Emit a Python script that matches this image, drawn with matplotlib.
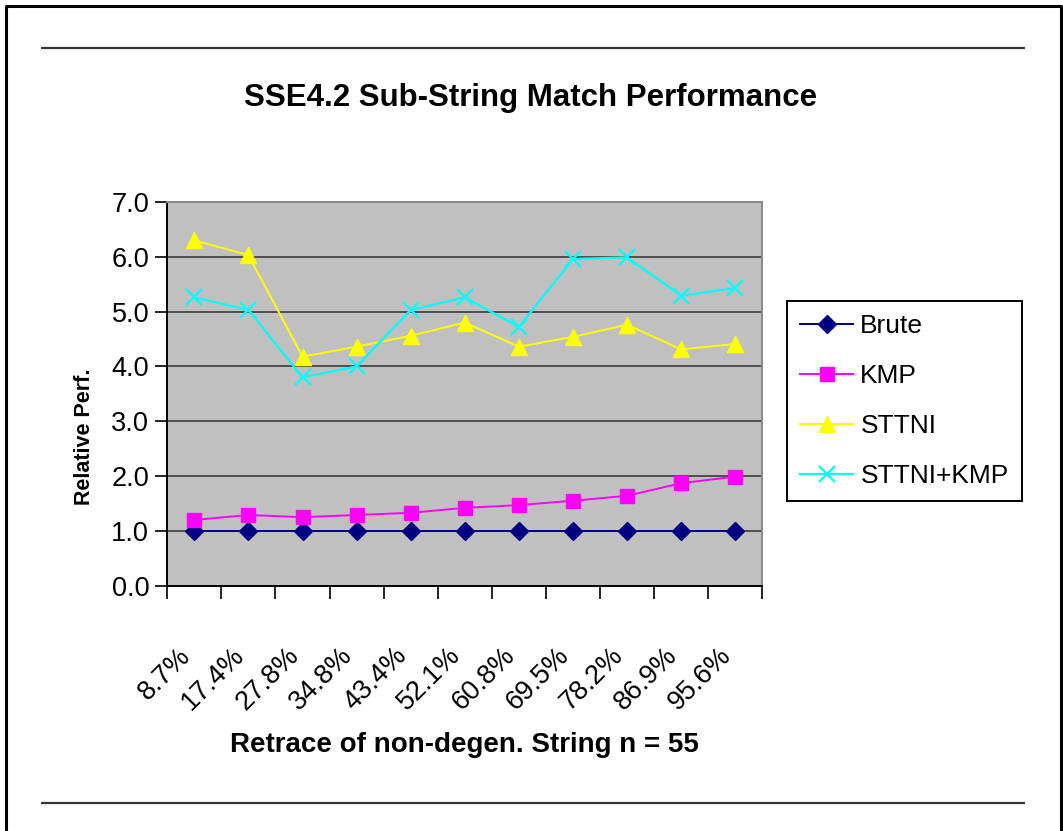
import matplotlib
matplotlib.use("Agg")
import matplotlib.pyplot as plt
from matplotlib.lines import Line2D
from matplotlib.transforms import offset_copy

plt.rcParams['font.family'] = ['Liberation Sans', 'DejaVu Sans']

categories = ["8.7%", "17.4%", "27.8%", "34.8%", "43.4%", "52.1%",
              "60.8%", "69.5%", "78.2%", "86.9%", "95.6%"]
brute = [1.0, 1.0, 1.0, 1.0, 1.0, 1.0, 1.0, 1.0, 1.0, 1.0, 1.0]
kmp = [1.20, 1.29, 1.25, 1.29, 1.33, 1.42, 1.47, 1.55, 1.64, 1.87, 1.99]
sttni = [6.30, 6.03, 4.18, 4.36, 4.56, 4.80, 4.36, 4.54, 4.76, 4.31, 4.41]
sttni_kmp = [5.26, 5.03, 3.80, 4.00, 5.03, 5.26, 4.72, 5.96, 5.99, 5.29, 5.43]
y_ticks = [0, 1, 2, 3, 4, 5, 6, 7]

W, H = 1063, 831
fig = plt.figure(figsize=(W / 100, H / 100), dpi=100)
fig.patch.set_facecolor("white")

# outer frame (left, top, right) and the two horizontal rules
def fline(x0, y0, x1, y1, color="black", lw=1.5):
    fig.add_artist(Line2D([x0 / W, x1 / W], [1 - y0 / H, 1 - y1 / H],
                          transform=fig.transFigure, color=color, lw=lw,
                          solid_capstyle="butt"))

fline(6, 6, 6, H, lw=2.2)
fline(5, 6, 1062, 6, lw=2.2)
fline(1061, 6, 1061, H, lw=2.2)
fline(41, 48, 1025, 48, color="#333333", lw=1.6)
fline(41, 803, 1025, 803, color="#333333", lw=1.6)

left, right, top, bottom = 167.3, 762.3, 202.0, 585.7
ax = fig.add_axes([left / W, 1 - bottom / H, (right - left) / W, (bottom - top) / H])
ax.set_facecolor("#C0C0C0")

n = len(categories)
xs = [i + 0.5 for i in range(n)]

ax.set_xlim(0, n)
ax.set_ylim(0, 7)
ax.set_yticks(y_ticks)
ax.set_yticklabels([f"{v:.1f}" for v in y_ticks], fontsize=19.5)
ax.yaxis.grid(True, color="#303030", lw=1.1)
ax.set_axisbelow(True)

ax.set_xticks(range(n + 1))
ax.set_xticklabels([])
ax.tick_params(axis="both", direction="out", length=9, width=1.2, color="black")
ax.tick_params(axis="y", pad=4)

for s in ["left", "bottom"]:
    ax.spines[s].set_color("black")
    ax.spines[s].set_linewidth(1.4)
for s in ["top", "right"]:
    ax.spines[s].set_color("#8a8a8a")
    ax.spines[s].set_linewidth(1.4)

ax.plot(xs, brute, color="#000080", lw=1.4, marker="D", ms=9.5,
        mfc="#000080", mec="#000080", label="Brute", zorder=3)
ax.plot(xs, kmp, color="#FF00FF", lw=1.4, marker="s", ms=10,
        mfc="#FF00FF", mec="#FF00FF", label="KMP", zorder=3)
ax.plot(xs, sttni, color="#FFFF00", lw=1.4, marker="^", ms=11,
        mfc="#FFFF00", mec="#FFFF00", label="STTNI", zorder=3)
ax.plot(xs, sttni_kmp, color="#00FFFF", lw=1.6, marker="x", ms=11,
        mew=1.6, mfc="#00FFFF", mec="#00FFFF", label="STTNI+KMP", zorder=3)

# rotated category labels below the axis
lab_tr = offset_copy(ax.get_xaxis_transform(), fig=fig, x=-17, y=-57, units="dots")
for x, c in zip(xs, categories):
    ax.text(x, 0, c, transform=lab_tr, rotation=45, rotation_mode="anchor",
            ha="right", va="top", fontsize=19.5)

ax.set_xlabel("Retrace of non-degen. String n = 55", fontsize=20,
              fontweight="bold", labelpad=0)
ax.xaxis.set_label_coords(0.5, -(745 - bottom) / (bottom - top), transform=ax.transAxes)
ax.xaxis.label.set_va("center")

fig.text(84 / W, 1 - 437 / H, "Relative Perf.", rotation=90, ha="center", va="center",
         fontsize=15.5, fontweight="bold",
         family=["Liberation Sans Narrow", "Liberation Sans", "DejaVu Sans"])

fig.text(531 / W, 1 - 98 / H, "SSE4.2 Sub-String Match Performance",
         ha="center", va="center", fontsize=22.5, fontweight="bold")

leg = ax.legend(loc="upper left", bbox_to_anchor=(787 / W, 1 - 301 / H),
                bbox_transform=fig.transFigure, fontsize=19, frameon=True,
                fancybox=False, edgecolor="black", framealpha=1,
                handlelength=2.0, handletextpad=0.28, labelspacing=0.98,
                borderpad=0.5, borderaxespad=0)
leg.get_frame().set_linewidth(1.4)

fig.savefig("out.png", dpi=100, facecolor="white")
